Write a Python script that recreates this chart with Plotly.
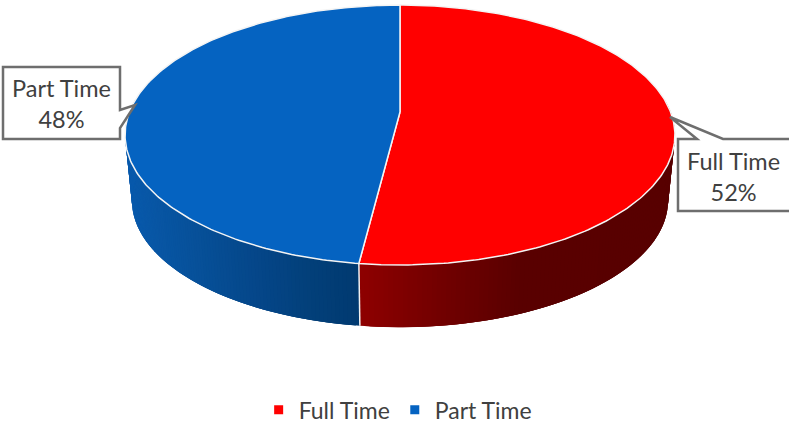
import numpy as np
import plotly.graph_objects as go

categories = ["Full Time", "Part Time"]
shares = [52, 48]
colors = ["#FF0000", "#0563C1"]
label_text = ["Full Time<br>52%", "Part Time<br>48%"]

# side-wall shading by screen x (style only)
side_x = [[361, 430, 520, 680], [125, 200, 260, 310, 361]]
side_rgb = [
    [(142, 0, 0), (118, 0, 0), (90, 0, 0), (88, 0, 0)],
    [(9, 90, 172), (7, 80, 152), (5, 70, 136), (3, 64, 122), (1, 58, 112)],
]

CX, CY, A, B, K = 400, 112, 270.6, 125.9, 0.177
W, H = 789, 425


def rim(theta):
    u, v = np.sin(theta), -np.cos(theta)
    d = 1 - K * v
    return CX + A * u / d, CY + B * v / d


def lower_rim(theta):
    u, v = np.sin(theta), -np.cos(theta)
    d = 1 - K * v
    return CX + 0.975 * A * u / d, 178 + 0.975 * B * v / d


fracs = np.array(shares) / sum(shares)
edges = np.concatenate([[0], np.cumsum(fracs)]) * 2 * np.pi

fig = go.Figure()

# side wall, one narrow band at a time; each band overlaps the next to hide seams
for i in [1, 0]:
    lo, hi = edges[i], edges[i + 1]
    a0 = max(lo, np.pi / 2 - 0.1) if i == 0 else lo
    a1 = min(hi, 3 * np.pi / 2 + 0.1)
    ts = np.linspace(a0, a1, 121)
    starts = ts[:-1] if i == 1 else ts[:-1][::-1]
    step = ts[1] - ts[0]
    for t0 in starts:
        if i == 1:
            pts = np.array([t0, min(t0 + 3 * step, a1)])
        else:
            pts = np.array([max(t0 - 2 * step, a0), t0 + step])
        xa, ya = rim(pts)
        xb, yb = lower_rim(pts[::-1])
        xm = rim(t0 + step / 2)[0]
        rgb = [np.interp(xm, side_x[i], [c[j] for c in side_rgb[i]]) for j in range(3)]
        col = "rgb(%d,%d,%d)" % tuple(rgb)
        fig.add_trace(go.Scatter(
            x=list(xa) + list(xb), y=list(ya) + list(yb), mode="lines", fill="toself",
            fillcolor=col, line=dict(width=0), hoverinfo="skip", showlegend=False))

# seam on the side wall
seam = edges[1]
sx0, sy0 = rim(seam)
sx1, sy1 = lower_rim(seam)
fig.add_trace(go.Scatter(x=[sx0, sx1], y=[sy0, sy1], mode="lines",
                         line=dict(color="#F0F0F0", width=1.5), hoverinfo="skip", showlegend=False))

# top surface
for i, name in enumerate(categories):
    ts = np.linspace(edges[i], edges[i + 1], 240)
    xs, ys = rim(ts)
    fig.add_trace(go.Scatter(
        x=[CX] + list(xs) + [CX], y=[CY] + list(ys) + [CY], mode="lines", fill="toself",
        fillcolor=colors[i], line=dict(color="#F4F4F4", width=1.5),
        name=name, text=f"{name}: {shares[i]}%", hoverinfo="text", showlegend=False))

# legend entries
for name, col in zip(categories, colors):
    fig.add_trace(go.Scatter(x=[None], y=[None], mode="markers", name=name,
                             marker=dict(symbol="square", size=9, color=col)))

border = dict(color="#6E6E6E", width=2.5)
fig.add_shape(type="path", line=border, fillcolor="white",
              path="M 3 67 L 120 67 L 120 110 L 135 105 L 120 128 L 120 139 L 3 139 Z")
fig.add_shape(type="path", line=border, fillcolor="white",
              path="M 678 139 L 697 139 L 670 117 L 723 139 L 795 139 L 795 211 L 678 211 Z")

font_main = dict(family="Lato, Carlito, sans-serif", size=23.5, color="#404040")
fig.add_annotation(x=733, y=176, text=label_text[0], showarrow=False, font=font_main, align="center")
fig.add_annotation(x=61, y=103, text=label_text[1], showarrow=False, font=font_main, align="center")

fig.update_layout(
    width=W, height=H, margin=dict(l=0, r=0, t=0, b=0, autoexpand=False),
    paper_bgcolor="white", plot_bgcolor="white",
    xaxis=dict(range=[0, W], visible=False, fixedrange=True),
    yaxis=dict(range=[H, 0], visible=False, fixedrange=True),
    font=font_main,
    legend=dict(orientation="h", x=0.504, xanchor="center", y=0.036, yanchor="middle",
                font=dict(size=23, color="#404040"), bgcolor="rgba(0,0,0,0)"),
)
fig.write_html("out.html", config=dict(displayModeBar=False),
               post_script="document.body.style.margin='0';document.documentElement.style.overflow='hidden';")
